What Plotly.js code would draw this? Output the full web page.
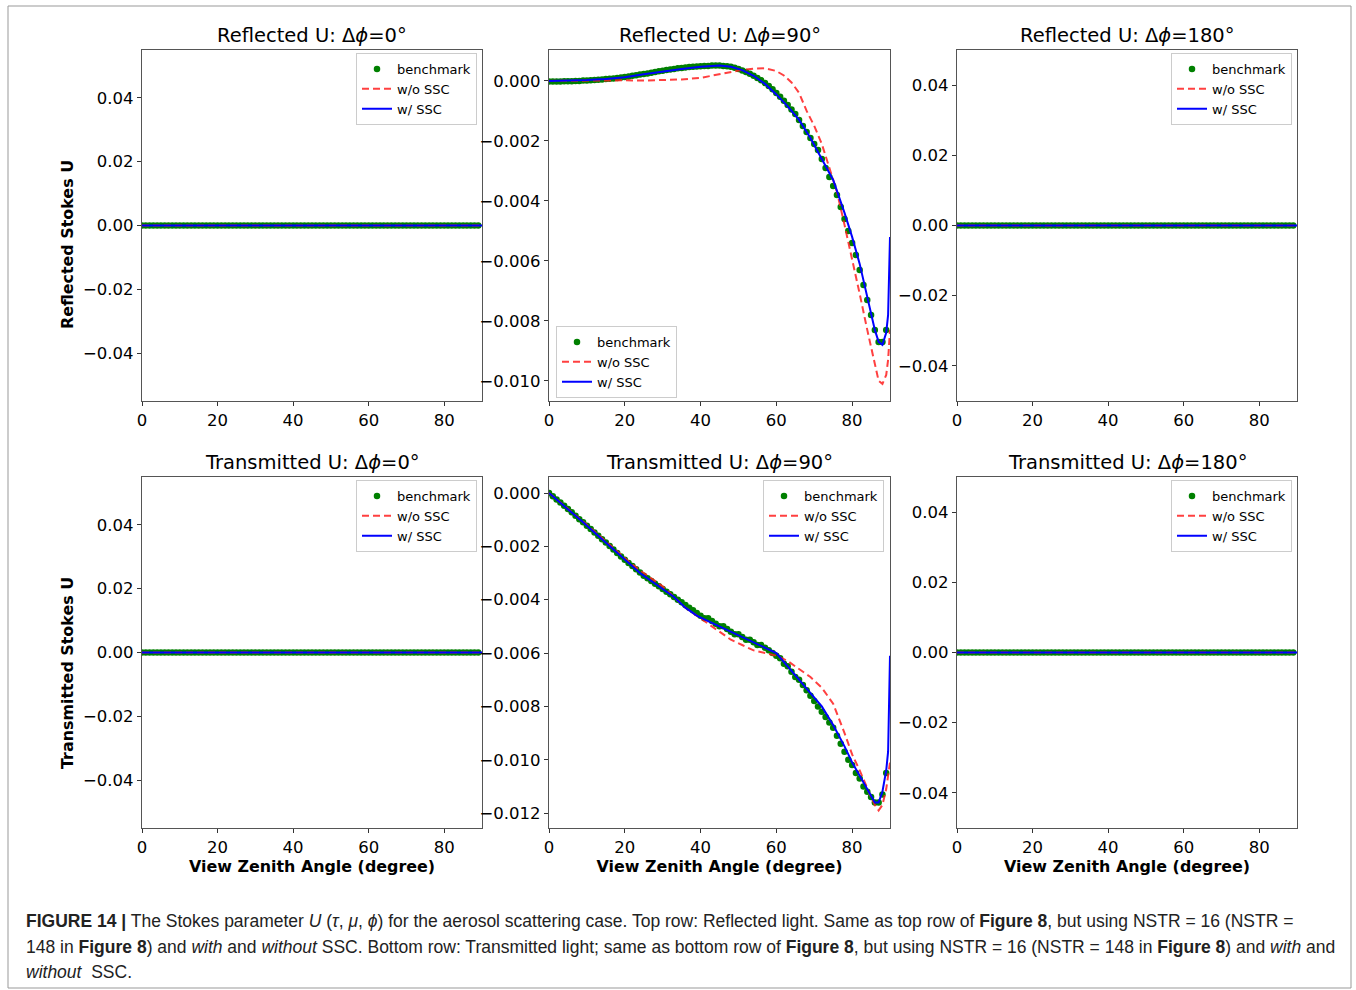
<!DOCTYPE html>
<html>
<head>
<meta charset="utf-8">
<script src="https://cdn.plot.ly/plotly-3.0.1.min.js"></script>
<style>
html,body{margin:0;padding:0;background:#fff;}
#chart{width:1356px;height:990px;}
</style>
</head>
<body>
<div id="chart"></div>
<script>
// ---------------- data ----------------
const PANEL_TITLES = [
  "Reflected U: Δ<i>ϕ</i>=0°", "Reflected U: Δ<i>ϕ</i>=90°", "Reflected U: Δ<i>ϕ</i>=180°",
  "Transmitted U: Δ<i>ϕ</i>=0°", "Transmitted U: Δ<i>ϕ</i>=90°", "Transmitted U: Δ<i>ϕ</i>=180°"
];
const Y_TITLES = ["Reflected Stokes U", "Transmitted Stokes U"];
const X_TITLE = "View Zenith Angle (degree)";
const SERIES_NAMES = ["benchmark", "w/o SSC", "w/ SSC"];
const X_TICKS = [0, 20, 40, 60, 80];

// benchmark view zenith angles (degrees)
const BENCH_X = [0,1,2,3,4,5,6,7,8,9,10,11,12,13,14,15,16,17,18,19,20,21,22,23,24,25,26,27,28,29,
  30,31,32,33,34,35,36,37,38,39,40,41,42,43,44,45,46,47,48,49,50,51,52,53,54,55,56,57,58,59,
  60,61,62,63,64,65,66,67,68,69,70,71,72,73,74,75,76,77,78,79,80,81,82,83,84,85,86,87,88,89];

// flat panels (Δϕ = 0° and 180°): all U values are zero
const BENCH_FLAT = [0,0,0,0,0,0,0,0,0,0,0,0,0,0,0,0,0,0,0,0,0,0,0,0,0,0,0,0,0,0,
  0,0,0,0,0,0,0,0,0,0,0,0,0,0,0,0,0,0,0,0,0,0,0,0,0,0,0,0,0,0,
  0,0,0,0,0,0,0,0,0,0,0,0,0,0,0,0,0,0,0,0,0,0,0,0,0,0,0,0,0,0];
const FLAT_X = [0, 30, 60, 90];
const FLAT_NOSSC = [0, 0, 0, 0];
const FLAT_SSC = [0, 0, 0, 0];

// Reflected, Δϕ = 90°
const REF90_BENCH = [-0.00002,-0.00002,-0.00002,-0.00002,-0.00001,-0.00001,-0.00001,0,0,0.00001,
  0.00001,0.00002,0.00003,0.00004,0.00005,0.00006,0.00007,0.00008,0.0001,0.00011,
  0.00013,0.00015,0.00017,0.00019,0.00021,0.00023,0.00025,0.00027,0.0003,0.00032,
  0.00034,0.00036,0.00038,0.0004,0.00042,0.00043,0.00045,0.00046,0.00047,0.00048,
  0.00049,0.0005,0.0005,0.00051,0.00051,0.00051,0.0005,0.00049,0.00047,0.00044,
  0.0004,0.00035,0.0003,0.00024,0.00017,0.0001,0.00002,-0.00007,-0.00017,-0.00028,
  -0.0004,-0.00053,-0.00066,-0.0008,-0.00095,-0.0011,-0.0013,-0.0015,-0.0017,-0.0019,
  -0.0021,-0.0023,-0.0026,-0.0029,-0.0032,-0.0035,-0.0038,-0.0042,-0.0046,-0.005,
  -0.0054,-0.0058,-0.0063,-0.0068,-0.0073,-0.0078,-0.0083,-0.0087,-0.0087,-0.0083];
const REF90_SSC_X = [0,5,10,15,20,25,30,35,40,45,48,51,54,57,60,63,66,69,72,75,78,80,82,84,85,86,87,88,89,89.5,90];
const REF90_SSC = [0,0.00001,0.00003,0.00006,0.00012,0.00022,0.00032,0.0004,0.00047,0.00051,0.00047,0.00036,0.00017,-0.0001,
  -0.00045,-0.00085,-0.0013,-0.0019,-0.0026,-0.0033,-0.0044,-0.0052,-0.0061,-0.0072,-0.0078,-0.0083,-0.0087,-0.0088,-0.0084,-0.0078,-0.0052];
const REF90_NOSSC_X = [0,5,10,15,20,25,30,35,40,45,48,51,54,57,60,62,64,66,68,70,72,74,76,78,80,82,84,85,86,87,88,89,89.5,90];
const REF90_NOSSC = [0,0.00001,0.00002,0.00003,0.00002,0.00001,0.00002,0.00005,0.0001,0.00023,0.00031,0.00037,0.00041,0.00042,
  0.00033,0.00018,-0.00005,-0.0004,-0.001,-0.0015,-0.0021,-0.0029,-0.0037,-0.0048,-0.0059,-0.0071,-0.0083,-0.0089,-0.0095,-0.01,-0.0101,-0.0098,-0.0093,-0.0083];

// Transmitted, Δϕ = 90°
const TRA90_BENCH = [0,-0.00012,-0.00024,-0.00036,-0.00048,-0.0006,-0.00072,-0.00085,-0.00098,-0.0011,
  -0.00123,-0.00135,-0.00148,-0.0016,-0.00173,-0.00186,-0.00199,-0.00212,-0.00225,-0.00238,
  -0.0025,-0.00262,-0.00274,-0.00286,-0.00298,-0.0031,-0.0032,-0.0033,-0.0034,-0.0035,
  -0.0036,-0.0037,-0.0038,-0.0039,-0.004,-0.0041,-0.0042,-0.0043,-0.0044,-0.0045,
  -0.0046,-0.0047,-0.0047,-0.0048,-0.0049,-0.005,-0.005,-0.0051,-0.0052,-0.0053,
  -0.0053,-0.0054,-0.0055,-0.0055,-0.0056,-0.0057,-0.0057,-0.0058,-0.0059,-0.006,
  -0.0061,-0.0062,-0.0064,-0.0065,-0.0067,-0.0069,-0.007,-0.0072,-0.0074,-0.0076,
  -0.0078,-0.008,-0.0082,-0.0084,-0.0086,-0.0088,-0.0091,-0.0094,-0.0097,-0.01,
  -0.0102,-0.0105,-0.0107,-0.011,-0.0112,-0.0114,-0.0116,-0.0116,-0.0113,-0.0105];
const TRA90_X = [0,3,6,9,12,15,18,21,24,27,30,33,36,39,42,45,48,51,54,57,60,63,66,69,72,75,78,80,82,84,85,86,87,88,89,89.5,90];
const TRA90_SSC = [0,-0.00036,-0.00072,-0.0011,-0.00148,-0.00186,-0.00224,-0.0026,-0.003,-0.0033,-0.0036,-0.0039,-0.0043,-0.0046,
  -0.0048,-0.005,-0.0052,-0.0054,-0.0056,-0.0058,-0.006,-0.0065,-0.007,-0.0075,-0.008,-0.0087,-0.0095,-0.0101,-0.0106,-0.0111,
  -0.0114,-0.0116,-0.0116,-0.0112,-0.0104,-0.0097,-0.0061];
const TRA90_NOSSC = [0,-0.00035,-0.0007,-0.00107,-0.00144,-0.00182,-0.0022,-0.00256,-0.0029,-0.0032,-0.0035,-0.0039,-0.0043,-0.0046,
  -0.0049,-0.0052,-0.0055,-0.0057,-0.0059,-0.006,-0.0061,-0.0063,-0.0066,-0.0069,-0.0073,-0.0079,-0.009,-0.0098,-0.0104,-0.0111,
  -0.0114,-0.0117,-0.0119,-0.0117,-0.0111,-0.0106,-0.0101];

// ---------------- layout helpers ----------------
const W = 1356, H = 990;
const px = v => v / W;
const py = v => 1 - v / H;
const COLS = [[142, 482], [549, 890], [957, 1297]];
const ROWS = [[50, 401], [477, 828]];
const Y_RANGES = [[-0.055, 0.055], [-0.01067, 0.00103], [-0.05, 0.05],
                  [-0.055, 0.055], [-0.01256, 0.0006], [-0.05, 0.05]];
const Y_TICKS = [[-0.04,-0.02,0,0.02,0.04], [-0.010,-0.008,-0.006,-0.004,-0.002,0],
                 [-0.04,-0.02,0,0.02,0.04], [-0.04,-0.02,0,0.02,0.04],
                 [-0.012,-0.010,-0.008,-0.006,-0.004,-0.002,0], [-0.04,-0.02,0,0.02,0.04]];
const Y_FMT = [".2f", ".3f", ".2f", ".2f", ".3f", ".2f"];

const PANEL_DATA = [
  {bx: BENCH_X, by: BENCH_FLAT, nx: FLAT_X, ny: FLAT_NOSSC, sx: FLAT_X, sy: FLAT_SSC},
  {bx: BENCH_X, by: REF90_BENCH, nx: REF90_NOSSC_X, ny: REF90_NOSSC, sx: REF90_SSC_X, sy: REF90_SSC},
  {bx: BENCH_X, by: BENCH_FLAT, nx: FLAT_X, ny: FLAT_NOSSC, sx: FLAT_X, sy: FLAT_SSC},
  {bx: BENCH_X, by: BENCH_FLAT, nx: FLAT_X, ny: FLAT_NOSSC, sx: FLAT_X, sy: FLAT_SSC},
  {bx: BENCH_X, by: TRA90_BENCH, nx: TRA90_X, ny: TRA90_NOSSC, sx: TRA90_X, sy: TRA90_SSC},
  {bx: BENCH_X, by: BENCH_FLAT, nx: FLAT_X, ny: FLAT_NOSSC, sx: FLAT_X, sy: FLAT_SSC}
];

// legend placement per panel: [x px, y px, xanchor, yanchor]
const LEGEND_POS = [[477, 53, "right", "top"], [556, 398, "left", "bottom"], [1292, 53, "right", "top"],
                    [477, 480, "right", "top"], [884, 480, "right", "top"], [1292, 480, "right", "top"]];

const FONT = "DejaVu Sans, Verdana, sans-serif";
const AXCOL = "#555";

const traces = [];
const layout = {
  width: W, height: H,
  margin: {l: 0, r: 0, t: 0, b: 0},
  paper_bgcolor: "#fff", plot_bgcolor: "#fff",
  font: {family: FONT, color: "#000"},
  annotations: [], shapes: []
};

for (let i = 0; i < 6; i++) {
  const r = Math.floor(i / 3), c = i % 3;
  const sfx = i === 0 ? "" : String(i + 1);
  const xa = "x" + sfx, ya = "y" + sfx;
  const lg = "legend" + sfx;
  const d = PANEL_DATA[i];
  traces.push({x: d.bx, y: d.by, xaxis: xa, yaxis: ya, name: SERIES_NAMES[0], legend: lg,
    type: "scatter", mode: "markers", marker: {color: "#008000", size: 6.5}});
  traces.push({x: d.nx, y: d.ny, xaxis: xa, yaxis: ya, name: SERIES_NAMES[1], legend: lg,
    type: "scatter", mode: "lines", line: {color: "rgba(255,30,30,0.85)", width: 2, dash: "7px,4px"}});
  traces.push({x: d.sx, y: d.sy, xaxis: xa, yaxis: ya, name: SERIES_NAMES[2], legend: lg,
    type: "scatter", mode: "lines", line: {color: "#0000ff", width: 2}});

  layout["xaxis" + sfx] = {
    domain: [px(COLS[c][0]), px(COLS[c][1])], anchor: ya, range: [0, 90],
    tickvals: X_TICKS, ticks: "outside", ticklen: 4, tickwidth: 1, tickcolor: "#333",
    showline: true, mirror: true, linecolor: AXCOL, linewidth: 1.2,
    showgrid: false, zeroline: false, fixedrange: true,
    tickfont: {family: FONT, size: 16.5, color: "#000"},
    title: r === 1 ? {text: "<b>" + X_TITLE + "</b>", standoff: 2,
      font: {family: FONT, size: 15.9, color: "#000"}} : undefined
  };
  layout["yaxis" + sfx] = {
    domain: [py(ROWS[r][1]), py(ROWS[r][0])], anchor: xa, range: Y_RANGES[i],
    tickvals: Y_TICKS[i], tickformat: Y_FMT[i], ticks: "outside", ticklen: 4, tickwidth: 1, tickcolor: "#333",
    showline: true, mirror: true, linecolor: AXCOL, linewidth: 1.2,
    showgrid: false, zeroline: false, fixedrange: true,
    tickfont: {family: FONT, size: 16.5, color: "#000"}
  };
  const lp = LEGEND_POS[i];
  layout[lg] = {
    x: px(lp[0]), y: py(lp[1]), xanchor: lp[2], yanchor: lp[3], xref: "paper", yref: "paper",
    bgcolor: "rgba(255,255,255,0.85)", bordercolor: "#cccccc", borderwidth: 1,
    font: {family: FONT, size: 13, color: "#000"}, itemwidth: 30, tracegroupgap: 0
  };
  layout.annotations.push({
    text: PANEL_TITLES[i], xref: "paper", yref: "paper",
    x: (px(COLS[c][0]) + px(COLS[c][1])) / 2, y: py(ROWS[r][0] - 1),
    xanchor: "center", yanchor: "bottom", showarrow: false,
    font: {family: FONT, size: 19.5, color: "#000"}
  });
}

// y-axis titles (placed like the original, slightly below panel centre)
const Y_TITLE_CENTER = [245, 673];
Y_TITLES.forEach((t, k) => {
  layout.annotations.push({
    text: "<b>" + t + "</b>", xref: "paper", yref: "paper", x: px(67), y: py(Y_TITLE_CENTER[k]),
    xanchor: "center", yanchor: "middle", textangle: -90, showarrow: false,
    font: {family: FONT, size: 15.9, color: "#000"}
  });
});

// caption
const CAPTION_LINES = [
  "<b>FIGURE 14 |</b> The Stokes parameter <i>U</i> (<i>τ</i>, <i>μ</i>, <i>ϕ</i>) for the aerosol scattering case. Top row: Reflected light. Same as top row of <b>Figure 8</b>, but using NSTR = 16 (NSTR =",
  "148 in <b>Figure 8</b>) and <i>with</i> and <i>without</i> SSC. Bottom row: Transmitted light; same as bottom row of <b>Figure 8</b>, but using NSTR = 16 (NSTR = 148 in <b>Figure 8</b>) and <i>with</i> and",
  "<i>without</i>  SSC."
];
const CAP_Y = [921, 947, 972];
CAPTION_LINES.forEach((t, k) => {
  layout.annotations.push({
    text: t, xref: "paper", yref: "paper", x: px(24), y: py(CAP_Y[k]),
    xanchor: "left", yanchor: "middle", showarrow: false, align: "left",
    font: {family: "Liberation Sans, Arial, sans-serif", size: 17.5, color: "#222"}
  });
});

// figure frame
layout.shapes.push({type: "rect", xref: "paper", yref: "paper",
  x0: px(8), x1: px(1351), y0: py(988), y1: py(6), line: {color: "#999", width: 1}});

Plotly.newPlot("chart", traces, layout, {displayModeBar: false, staticPlot: true});
</script>
</body>
</html>
